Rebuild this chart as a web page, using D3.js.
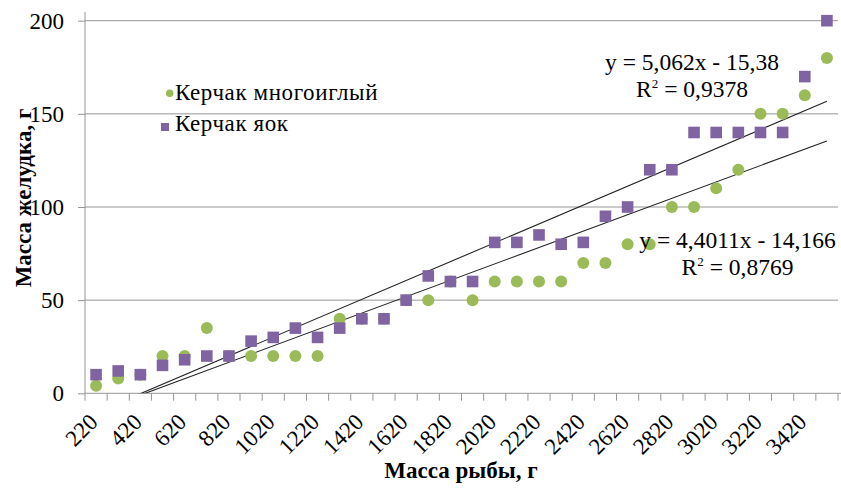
<!DOCTYPE html>
<html>
<head>
<meta charset="utf-8">
<script src="https://cdn.jsdelivr.net/npm/d3@7"></script>
<style>
  html, body { margin: 0; padding: 0; background: #ffffff; }
  svg { display: block; }
  text { font-family: "Liberation Serif", "Times New Roman", serif; fill: #000; }
</style>
</head>
<body>
<svg id="chart" width="841" height="489"></svg>
<script>
// Fish mass categories, g
const categories = [220, 320, 420, 520, 620, 720, 820, 920, 1020, 1120, 1220, 1320, 1420, 1520,
  1620, 1720, 1820, 1920, 2020, 2120, 2220, 2320, 2420, 2520, 2620, 2720, 2820, 2920, 3020,
  3120, 3220, 3320, 3420, 3520];

// Stomach mass, g — Керчак многоиглый
const mnogoiglyi = [4, 8, 10, 20, 20, 35, 20, 20, 20, 20, 20, 40, 40, 40, 50, 50, 60, 50, 60, 60,
  60, 60, 70, 70, 80, 80, 100, 100, 110, 120, 150, 150, 160, 180];

// Stomach mass, g — Керчак яок
const yaok = [10, 12, 10, 15, 18, 20, 20, 28, 30, 35, 30, 35, 40, 40, 50, 63, 60, 60, 81, 81,
  85, 80, 81, 95, 100, 120, 120, 140, 140, 140, 140, 140, 170, 200];

const seriesNames = ["Керчак многоиглый", "Керчак яок"];

// Linear trends over category index (1..n): многоиглый, яок
const trendSlopes = [4.4011, 5.062];
const trendIntercepts = [-14.166, -15.38];
const trendR2 = ["0,8769", "0,9378"];
const trendLabels = ["y = 4,4011x - 14,166", "y = 5,062x - 15,38"];

const yTicks = [0, 50, 100, 150, 200];
const xTickLabels = categories.filter((d, i) => i % 2 === 0);

const colors = ["#9bbb59", "#8064a2"];

const svg = d3.select("#chart");
const plot = { left: 85, right: 838, top: 20.7, bottom: 393.3 };

const x = d3.scaleBand().domain(categories).range([plot.left, plot.right]).padding(0);
const xIdx = d3.scaleLinear().domain([0.5, categories.length + 0.5]).range([plot.left, plot.right]);
const y = d3.scaleLinear().domain([0, 200]).range([plot.bottom, plot.top]);

const gridColor = "#969696";
const serif = "Liberation Serif, Times New Roman, serif";

// Horizontal gridlines
svg.append("g")
  .selectAll("line")
  .data(yTicks.filter(d => d > 0))
  .join("line")
  .attr("x1", plot.left).attr("x2", plot.right)
  .attr("y1", d => y(d)).attr("y2", d => y(d))
  .attr("stroke", gridColor).attr("stroke-width", 1);

// Y axis
const yAxis = d3.axisLeft(y).tickValues(yTicks).tickSize(7).tickPadding(14).tickFormat(d3.format("d"));
const gy = svg.append("g").attr("transform", `translate(${plot.left},0)`).call(yAxis)
  .attr("font-family", serif);
gy.select(".domain").attr("d", `M0,12V${plot.bottom}`).attr("stroke", gridColor);
gy.selectAll(".tick line").attr("stroke", gridColor);
gy.selectAll(".tick text").attr("font-size", 23).attr("dy", "0.32em");

// X axis with ticks between categories
const gx = svg.append("g").attr("transform", `translate(0,${plot.bottom})`);
gx.append("line").attr("x1", plot.left).attr("x2", 841).attr("y1", 0).attr("y2", 0).attr("stroke", gridColor);
gx.selectAll("line.tk")
  .data(d3.range(categories.length + 1))
  .join("line").attr("class", "tk")
  .attr("x1", k => xIdx(k + 0.5)).attr("x2", k => xIdx(k + 0.5))
  .attr("y1", 0).attr("y2", 7.4)
  .attr("stroke", gridColor);
gx.selectAll("text")
  .data(xTickLabels)
  .join("text")
  .attr("transform", d => `translate(${x(d) + x.bandwidth() / 2 + 3},30) rotate(-45)`)
  .attr("text-anchor", "end")
  .attr("font-size", 23)
  .text(d => d);

// Trend lines, clipped to the plot area
svg.append("clipPath").attr("id", "plotClip")
  .append("rect")
  .attr("x", plot.left).attr("y", plot.top)
  .attr("width", plot.right - plot.left).attr("height", plot.bottom - plot.top);

const trendG = svg.append("g").attr("clip-path", "url(#plotClip)");
trendSlopes.forEach((m, s) => {
  const b = trendIntercepts[s];
  const t0 = 1, t1 = categories.length;
  trendG.append("line")
    .attr("x1", xIdx(t0)).attr("y1", y(m * t0 + b))
    .attr("x2", xIdx(t1)).attr("y2", y(m * t1 + b))
    .attr("stroke", "#222").attr("stroke-width", 1.1);
});

// Markers
const cx = d => x(d) + x.bandwidth() / 2;
svg.append("g").selectAll("circle")
  .data(categories.map((c, i) => ({ c, v: mnogoiglyi[i] })))
  .join("circle")
  .attr("cx", d => cx(d.c)).attr("cy", d => y(d.v))
  .attr("r", 6).attr("fill", colors[0]);

svg.append("g").selectAll("rect")
  .data(categories.map((c, i) => ({ c, v: yaok[i] })))
  .join("rect")
  .attr("x", d => cx(d.c) - 5.8).attr("y", d => y(d.v) - 5.8)
  .attr("width", 11.6).attr("height", 11.6).attr("fill", colors[1]);

// Trend equations
const eqPos = [
  { x: 737.5, y1: 248, y2: 275 },
  { x: 692, y1: 70, y2: 96.7 }
];
eqPos.forEach((p, s) => {
  svg.append("text").attr("x", p.x).attr("y", p.y1).attr("text-anchor", "middle")
    .attr("font-size", 23.5).text(trendLabels[s]);
  const t = svg.append("text").attr("x", p.x).attr("y", p.y2).attr("text-anchor", "middle")
    .attr("font-size", 23.5);
  t.append("tspan").text("R");
  t.append("tspan").attr("font-size", 13).attr("dy", -9).text("2");
  t.append("tspan").attr("dy", 9).text(" = " + trendR2[s]);
});

// Legend
const legend = svg.append("g");
legend.append("circle").attr("cx", 169.7).attr("cy", 93.3).attr("r", 3.8).attr("fill", colors[0]);
legend.append("rect").attr("x", 161).attr("y", 123).attr("width", 8).attr("height", 8).attr("fill", colors[1]);
legend.append("text").attr("x", 175).attr("y", 100).attr("font-size", 23)
  .attr("letter-spacing", 0.6).text(seriesNames[0]);
legend.append("text").attr("x", 175).attr("y", 130.5).attr("font-size", 23)
  .attr("letter-spacing", 0.6).text(seriesNames[1]);

// Axis titles
svg.append("text")
  .attr("x", 461).attr("y", 478)
  .attr("text-anchor", "middle").attr("font-weight", "bold").attr("font-size", 23)
  .text("Масса рыбы, г");

svg.append("text")
  .attr("transform", "translate(31,198) rotate(-90)")
  .attr("text-anchor", "middle").attr("font-weight", "bold").attr("font-size", 23)
  .text("Масса желудка, г");
</script>
</body>
</html>
